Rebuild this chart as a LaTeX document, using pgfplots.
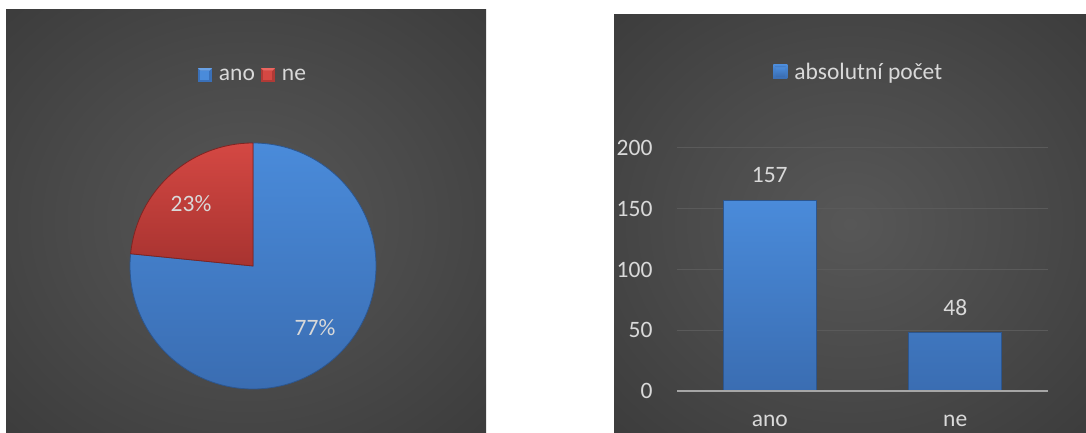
\documentclass[border=0pt]{standalone}
\usepackage{pgfplots}
\pgfplotsset{compat=1.18}
\usepackage{fontspec}
\setmainfont{Carlito}
\definecolor{txt}{HTML}{D9D9D9}
\definecolor{bluetop}{HTML}{4A8BDA}
\definecolor{bluebot}{HTML}{3A6DB2}
\definecolor{blueedge}{HTML}{2C568F}
\definecolor{bluelight}{HTML}{6AA2E6}
\definecolor{bluedark}{HTML}{3A70B8}
\definecolor{redtop}{HTML}{D44843}
\definecolor{redbot}{HTML}{A83330}
\definecolor{rededge}{HTML}{7E2422}
\definecolor{redlight}{HTML}{EC6660}
\definecolor{reddark}{HTML}{B03A36}
\definecolor{gridc}{HTML}{5A5A5A}
\definecolor{basec}{HTML}{A6A6A6}
\definecolor{bgA}{HTML}{575757}
\definecolor{bgB}{HTML}{4A4A4A}
\definecolor{bgC}{HTML}{353535}
\definecolor{bgD}{HTML}{272727}
\pgfdeclareradialshading{bgshade}{\pgfpoint{0bp}{0bp}}{color(0bp)=(bgA); color(18bp)=(bgB); color(45bp)=(bgC); color(72bp)=(bgD)}
\newcommand{\fnt}{\fontsize{23.5}{28}\selectfont}
\newcommand{\bevelbox}[3]{%
  \fill[#3, draw=none] (0pt,-7pt) rectangle (14pt,7pt);
  \fill[#1, draw=none] (2.5pt,-4.5pt) rectangle (11.5pt,4.5pt);
  \fill[#2, draw=none] (0pt,7pt) -- (14pt,7pt) -- (11.5pt,4.5pt) -- (2.5pt,4.5pt) -- cycle;
  \path[draw=none, fill=none] (0pt,0pt) -- (19pt,0pt);}
\pgfmathsetmacro{\vA}{157}
\pgfmathsetmacro{\vB}{48}
\pgfmathsetmacro{\angA}{360*(\vA/(\vA+\vB))}
\pgfmathsetmacro{\sA}{90-\angA}
\pgfmathsetmacro{\cA}{cos(\sA)}
\pgfmathsetmacro{\snA}{sin(\sA)}
\begin{document}
\begin{tikzpicture}[x=1pt,y=1pt]
\fill[white] (0,0) rectangle (1086,433);
\path[use as bounding box] (0,0) rectangle (1086,433);
\shade[shading=bgshade] (6,0) rectangle (486,423);
\shade[shading=bgshade] (614,0) rectangle (1086,418);
% pie
\begin{axis}[at={(253pt,167pt)}, anchor=center, scale only axis,
  width=246pt, height=246pt, xmin=-1, xmax=1, ymin=-1, ymax=1,
  hide axis, clip=false, legend columns=2,
  legend style={at={(axis description cs:0.5,1.276)}, anchor=center,
    draw=none, fill=none, text=txt, font=\fnt,
    /tikz/every even column/.append style={column sep=4pt}}]
\addlegendimage{legend image code/.code={\bevelbox{bluetop}{bluelight}{bluedark}}}
\addlegendentry{ano}
\addlegendimage{legend image code/.code={\bevelbox{redtop}{redlight}{reddark}}}
\addlegendentry{ne}
\shade[top color=bluetop, bottom color=bluebot, draw=blueedge, line width=0.8pt]
  (axis cs:0,0) -- (axis cs:0,1) arc[start angle=90, end angle=\sA, radius=123pt] -- cycle;
\shade[top color=redtop, bottom color=redbot, draw=rededge, line width=0.8pt]
  (axis cs:0,0) -- (axis cs:\cA,\snA) arc[start angle=\sA, end angle=-270, radius=123pt] -- cycle;
\node[text=txt, font=\fnt] at (axis cs:-0.504,0.504) {23\%};
\node[text=txt, font=\fnt] at (axis cs:0.504,-0.504) {77\%};
\end{axis}
% bars
\begin{axis}[at={(677pt,42pt)}, anchor=south west, scale only axis,
  width=371pt, height=243pt, xmin=-0.5, xmax=1.5, ymin=0, ymax=200,
  ytick={0,50,100,150,200}, xtick={0,1}, xticklabels={ano,ne},
  ybar, bar width=93pt, axis line style={draw=none}, major tick length=0pt,
  ymajorgrids, grid style={gridc, line width=1pt},
  tick label style={text=txt, font=\fnt},
  /pgf/number format/assume math mode=true,
  yticklabel style={xshift=-21pt},
  xticklabel style={inner sep=1pt, yshift=-23pt},
  nodes near coords, nodes near coords style={text=txt, font=\fnt, anchor=center, yshift=25pt},
  clip=false,
  legend style={at={(axis description cs:0.49,1.313)}, anchor=center,
    draw=none, fill=none, text=txt, font=\fnt},
  legend image code/.code={\bevelbox{bluetop}{bluelight}{bluedark}}]
\addplot[top color=bluetop, bottom color=bluebot, draw=blueedge, line width=0.8pt]
  coordinates {(0,157) (1,48)};
\addlegendentry{absolutní počet}
\draw[basec, line width=2pt] (axis cs:-0.5,0) -- (axis cs:1.5,0);
\end{axis}
\end{tikzpicture}
\end{document}
